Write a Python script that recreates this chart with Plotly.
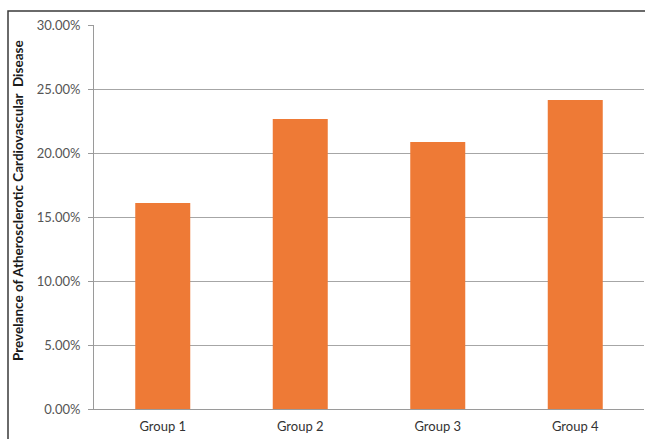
import plotly.graph_objects as go

categories = ["Group 1", "Group 2", "Group 3", "Group 4"]
prevalence = [0.1610, 0.2266, 0.2086, 0.2414]
y_ticks = [0, 0.05, 0.10, 0.15, 0.20, 0.25, 0.30]
y_tick_labels = ["0.00%", "5.00%", "10.00%", "15.00%", "20.00%", "25.00%", "30.00%"]
y_title = "Prevelance of Atherosclerotic Cardiovascular  Disease"

W, H = 645, 439
L, R, T, B = 94, 1, 25, 30
pw = W - L - R
ph = H - T - B

fig = go.Figure()
fig.add_trace(go.Bar(
    x=categories, y=prevalence,
    marker=dict(color="#EE7A36", line=dict(width=0)),
    width=0.4,
))

fig.update_layout(
    width=W, height=H,
    margin=dict(l=L, r=R, t=T, b=B, pad=0),
    paper_bgcolor="white", plot_bgcolor="white",
    showlegend=False,
    font=dict(family="Lato, 'Open Sans', sans-serif", size=13, color="#404040"),
    xaxis=dict(
        showgrid=False, showline=True, linecolor="#9A9A9A", linewidth=1,
        ticks="", tickfont=dict(size=13, color="#333333"),
        ticklabelstandoff=5,
    ),
    yaxis=dict(
        range=[0, 0.30], tickvals=y_ticks, ticktext=y_tick_labels,
        showgrid=True, gridcolor="#A6A6A6", gridwidth=1,
        showline=True, linecolor="#9A9A9A", linewidth=1,
        ticks="outside", ticklen=5, tickcolor="#9A9A9A",
        tickfont=dict(size=13, color="#555555"),
        ticklabelstandoff=5,
        zeroline=False,
    ),
    annotations=[dict(
        text="<b>" + y_title + "</b>",
        xref="paper", yref="paper",
        x=(18 - L) / pw, y=(H - B - 201) / ph,
        textangle=-90, showarrow=False,
        font=dict(size=13.5, color="#1a1a1a"),
        xanchor="center", yanchor="middle",
    )],
    shapes=[dict(
        type="rect", xref="paper", yref="paper",
        x0=(8 - L) / pw, x1=(W + 5 - L) / pw,
        y0=(H - B - (H + 5)) / ph, y1=(H - B - 11) / ph,
        line=dict(color="#3a3a3a", width=1.5), fillcolor="rgba(0,0,0,0)",
        layer="above",
    )],
)

fig.write_html("out.html")
